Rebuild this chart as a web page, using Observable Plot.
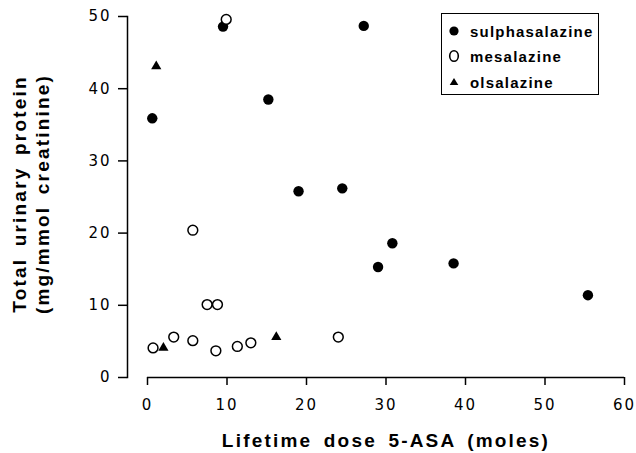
<!DOCTYPE html>
<html>
<head>
<meta charset="utf-8">
<script src="https://cdn.jsdelivr.net/npm/d3@7"></script>
<script src="https://cdn.jsdelivr.net/npm/@observablehq/plot@0.6"></script>
<style>
  html, body { margin: 0; padding: 0; background: #fff; }
  #wrap { position: relative; width: 636px; height: 453px; }
  .chart text { fill: #000; }
  .chart .ticks text { letter-spacing: 2px; }
  .chart .title text { letter-spacing: 2.2px; word-spacing: 4px; }
  #legend {
    position: absolute; left: 441px; top: 13px; width: 156px; height: 80px;
    border: 1.5px solid #000; background: #fff;
    font-family: "Liberation Sans", Arial, sans-serif; font-weight: bold;
    font-size: 15px; letter-spacing: 1.2px;
  }
  #legend .row { position: absolute; left: 0; height: 20px; display: flex; align-items: center; }
  #legend svg { width: 24px; height: 20px; }
  #legend span { margin-left: 4px; }
</style>
</head>
<body>
<div id="wrap"></div>
<script>
// ---- data ----
const series = ["sulphasalazine", "mesalazine", "olsalazine"];
const sulphaX = [0.6, 9.5, 15.2, 19.0, 27.2, 24.5, 29.0, 30.8, 38.5, 55.4];
const sulphaY = [35.9, 48.6, 38.5, 25.8, 48.7, 26.2, 15.3, 18.6, 15.8, 11.4];
const mesaX = [9.9, 5.7, 7.5, 8.8, 0.7, 3.3, 5.7, 8.6, 11.3, 13.0, 24.0];
const mesaY = [49.6, 20.4, 10.1, 10.1, 4.1, 5.6, 5.1, 3.7, 4.3, 4.8, 5.6];
const olsaX = [1.1, 2.0, 16.2];
const olsaY = [43.1, 4.1, 5.6];
const xTicks = [0, 10, 20, 30, 40, 50, 60];
const yTicks = [0, 10, 20, 30, 40, 50];
const xDomain = [0, 60];
const yDomain = [0, 50];
const xTitle = "Lifetime dose 5-ASA (moles)";
const yTitle1 = "Total urinary protein";
const yTitle2 = "(mg/mmol creatinine)";

const toRows = (xs, ys) => xs.map((x, i) => ({x, y: ys[i]}));
const sulpha = toRows(sulphaX, sulphaY);
const mesa = toRows(mesaX, mesaY);
const olsa = toRows(olsaX, olsaY);

const tickFont = "DejaVu Sans, sans-serif";
const titleFont = "Liberation Sans, Arial, sans-serif";

const chart = Plot.plot({
  width: 636,
  height: 453,
  marginLeft: 127,
  marginRight: 12,
  marginTop: 16,
  marginBottom: 76,
  className: "chart",
  style: {background: "#fff", color: "#000", overflow: "visible"},
  x: {domain: xDomain, insetLeft: 20},
  y: {domain: yDomain},
  marks: [
    Plot.frame({anchor: "left", stroke: "#000", strokeWidth: 1.5, strokeOpacity: 1}),
    Plot.ruleY([yDomain[0]], {x1: xDomain[0], x2: xDomain[1], stroke: "#000", strokeWidth: 1.5}),
    Plot.axisY({ticks: yTicks, tickSize: 9, tickPadding: 7, label: null, fontSize: 15,
      fontFamily: tickFont, strokeWidth: 1.5, className: "ticks"}),
    Plot.axisX({ticks: xTicks, tickSize: 8, tickPadding: 14, label: null, fontSize: 15,
      fontFamily: tickFont, strokeWidth: 1.5, className: "ticks"}),
    Plot.dot(sulpha, {x: "x", y: "y", r: 5.2, fill: "#000", stroke: "none"}),
    Plot.dot(olsa, {x: "x", y: "y", r: 3.8, symbol: "triangle", fill: "#000", stroke: "none"}),
    Plot.dot(mesa, {x: "x", y: "y", r: 4.9, fill: "#fff", stroke: "#000", strokeWidth: 1.5}),
    Plot.text([xTitle], {frameAnchor: "bottom", textAnchor: "middle", lineAnchor: "bottom",
      dx: 10, dy: 69, fontSize: 19, fontWeight: "bold", fontFamily: titleFont, className: "title"}),
    Plot.text([yTitle1], {frameAnchor: "left", textAnchor: "middle", lineAnchor: "middle", rotate: -90,
      dx: -108, dy: -3, fontSize: 19, fontWeight: "bold", fontFamily: titleFont, className: "title"}),
    Plot.text([yTitle2], {frameAnchor: "left", textAnchor: "middle", lineAnchor: "middle", rotate: -90,
      dx: -85, dy: -3, fontSize: 19, fontWeight: "bold", fontFamily: titleFont, className: "title"})
  ]
});

const wrap = document.getElementById("wrap");
wrap.appendChild(chart);

// legend (HTML overlay)
const legend = document.createElement("div");
legend.id = "legend";
const symbols = [
  '<svg viewBox="0 0 24 20"><circle cx="12" cy="10" r="4.6" fill="#000"/></svg>',
  '<svg viewBox="0 0 24 20"><ellipse cx="12" cy="10" rx="4.3" ry="5.3" fill="#fff" stroke="#000" stroke-width="1.6"/></svg>',
  '<svg viewBox="0 0 24 20"><path d="M12,6 L16.3,13 L7.7,13 Z" fill="#000"/></svg>'
];
const rowTops = [7, 32, 58];
series.forEach((name, i) => {
  const row = document.createElement("div");
  row.className = "row";
  row.style.top = rowTops[i] + "px";
  row.innerHTML = symbols[i] + "<span>" + name + "</span>";
  legend.appendChild(row);
});
wrap.appendChild(legend);
</script>
</body>
</html>
